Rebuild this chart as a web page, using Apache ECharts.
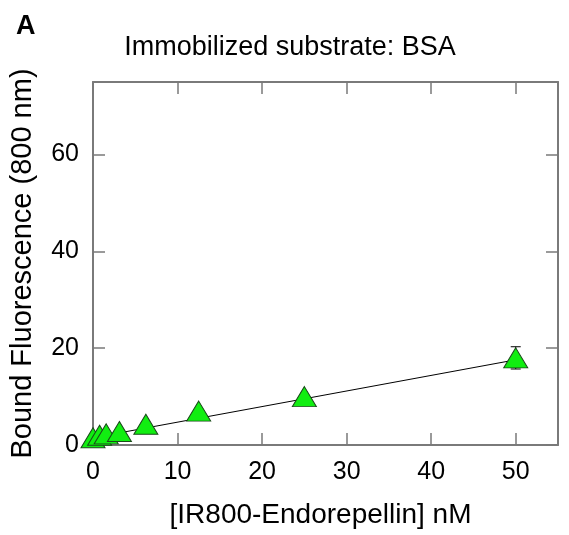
<!DOCTYPE html>
<html>
<head>
<meta charset="utf-8">
<script src="https://cdn.jsdelivr.net/npm/echarts@6/dist/echarts.min.js"></script>
<style>
  html, body { margin: 0; padding: 0; background: #fff; }
  #chart { width: 569px; height: 535px; }
</style>
</head>
<body>
<div id="chart"></div>
<script>
// concentrations (nM) and measured bound fluorescence
const conc = [0, 0.78, 1.56, 3.125, 6.25, 12.5, 25, 50];
const fluo = [1.5, 2.0, 2.3, 2.8, 4.3, 7.0, 10.0, 18.0];
const errs = [0, 0, 0, 0, 0, 0, 0, 2.3];
// linear fit endpoints
const fitX = [0, 50];
const fitY = [1.5, 17.6];
const xTicks = [0, 10, 20, 30, 40, 50];
const yTicks = [0, 20, 40, 60];

const chart = echarts.init(document.getElementById('chart'));
const font = 'Liberation Sans, Arial, sans-serif';
const axisGray = '#7a7a7a';

function makeX(pos, labels) {
    return {
        type: 'value', min: 0, max: 55, position: pos,
        axisLine: { show: true, onZero: false, lineStyle: { color: axisGray, width: 2 } },
        axisTick: { show: true, inside: true, length: 12, customValues: xTicks, lineStyle: { color: axisGray, width: 1.5 } },
        splitLine: { show: false },
        axisLabel: { show: labels, customValues: xTicks, color: '#000', fontSize: 25, fontFamily: font, margin: 15 }
    };
}
function makeY(pos, labels) {
    return {
        type: 'value', min: 0, max: 75, position: pos,
        axisLine: { show: true, onZero: false, lineStyle: { color: axisGray, width: 2 } },
        axisTick: { show: true, inside: true, length: 12, customValues: yTicks, lineStyle: { color: axisGray, width: 1.5 } },
        splitLine: { show: false },
        axisLabel: { show: labels, customValues: yTicks, color: '#000', fontSize: 25, fontFamily: font, margin: 14 }
    };
}

const xBottom = makeX('bottom', true);
xBottom.name = '[IR800-Endorepellin] nM';
xBottom.nameLocation = 'middle';
xBottom.nameGap = 56;
xBottom.nameTextStyle = { color: '#000', fontSize: 28, fontFamily: font, padding: [0, 10, 0, 0] };

const yLeft = makeY('left', true);
yLeft.name = 'Bound Fluorescence (800 nm)';
yLeft.nameLocation = 'middle';
yLeft.nameGap = 56;
yLeft.nameTextStyle = { color: '#000', fontSize: 29, fontFamily: font };

const option = {
    animation: false,
    title: [
        { text: 'A', left: 11, top: 8, textStyle: { fontSize: 27, fontWeight: 'bold', fontFamily: font, color: '#000' } },
        { text: 'Immobilized substrate: BSA', left: 285, top: 29, textAlign: 'center',
          textStyle: { fontSize: 27, fontWeight: 'normal', fontFamily: font, color: '#000' } }
    ],
    grid: { left: 91, right: 11, top: 82, bottom: 90, containLabel: false },
    xAxis: [xBottom, makeX('top', false)],
    yAxis: [yLeft, makeY('right', false)],
    series: [
        {
            type: 'line',
            data: fitX.map((x, i) => [x, fitY[i]]),
            symbol: 'none',
            lineStyle: { color: '#000', width: 1 },
            z: 3
        },
        {
            type: 'custom',
            z: 2,
            data: conc.map((x, i) => [x, fluo[i] - errs[i], fluo[i] + errs[i]]),
            renderItem: (params, api) => {
                if (api.value(2) - api.value(1) <= 0) return null;
                const lo = api.coord([api.value(0), api.value(1)]);
                const hi = api.coord([api.value(0), api.value(2)]);
                const w = 5;
                const st = { stroke: '#000', lineWidth: 1 };
                return {
                    type: 'group',
                    children: [
                        { type: 'line', shape: { x1: lo[0], y1: lo[1], x2: hi[0], y2: hi[1] }, style: st },
                        { type: 'line', shape: { x1: lo[0] - w, y1: lo[1], x2: lo[0] + w, y2: lo[1] }, style: st },
                        { type: 'line', shape: { x1: hi[0] - w, y1: hi[1], x2: hi[0] + w, y2: hi[1] }, style: st }
                    ]
                };
            }
        },
        {
            type: 'scatter',
            data: conc.map((x, i) => [x, fluo[i]]),
            symbol: 'triangle',
            symbolSize: [24, 20],
            itemStyle: { color: '#11ee11', borderColor: '#1a4a1a', borderWidth: 1, opacity: 1 },
            z: 4
        }
    ]
};
chart.setOption(option);
</script>
</body>
</html>
